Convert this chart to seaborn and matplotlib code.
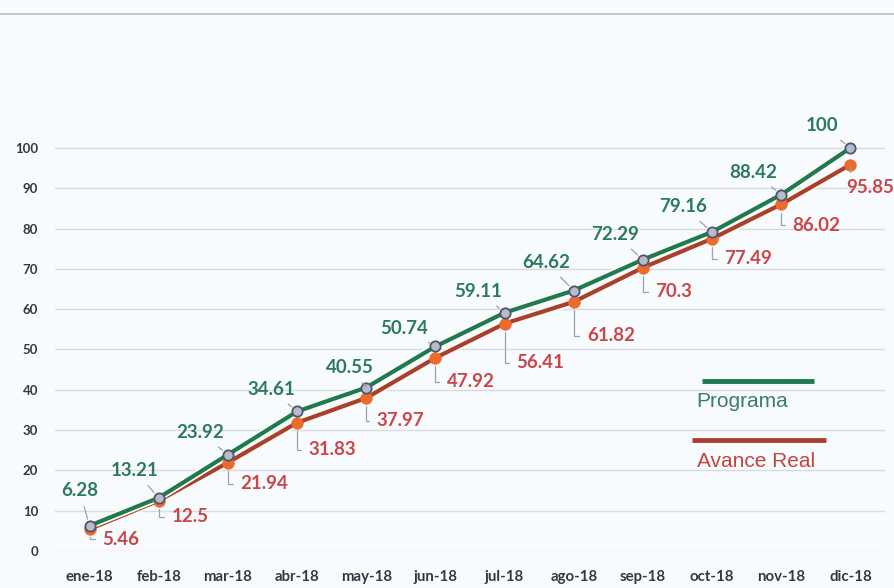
import numpy as np
import pandas as pd
import matplotlib
matplotlib.use("Agg")
import matplotlib.pyplot as plt
import matplotlib.patheffects as pe
from matplotlib.lines import Line2D
import seaborn as sns

months = ["ene-18", "feb-18", "mar-18", "abr-18", "may-18", "jun-18",
          "jul-18", "ago-18", "sep-18", "oct-18", "nov-18", "dic-18"]
programa = [6.28, 13.21, 23.92, 34.61, 40.55, 50.74, 59.11, 64.62, 72.29, 79.16, 88.42, 100]
avance_real = [5.46, 12.5, 21.94, 31.83, 37.97, 47.92, 56.41, 61.82, 70.3, 77.49, 86.02, 95.85]
y_ticks = [0, 10, 20, 30, 40, 50, 60, 70, 80, 90, 100]

# label offsets in pixels (dx, dy) from each point
prog_offsets = [(-10, 35), (-24, 27), (-28, 22), (-26, 22), (-16, 20), (-31, 18),
                (-26, 21), (-28, 28), (-28, 25), (-29, 25), (-28, 22), (-28, 22)]
real_offsets = [(31, -10), (31, -16), (36, -21), (35, -27), (34, -23), (35, -24),
                (36, -39), (37, -34), (31, -24), (36, -20), (35, -21), (20, -23)]

sns.set_theme(style="white")
plt.rcParams["font.family"] = ["Lato", "DejaVu Sans"]

BG = "#f8fbfd"
GREEN = "#1f7a52"
GREEN_TXT = "#2d7a5c"
RED = "#a8402e"
RED_TXT = "#c9474a"
ORANGE = "#ec6a2c"
LEADER = "#9da2aa"

df = pd.DataFrame({
    "pos": list(range(len(months))) * 2,
    "valor": programa + avance_real,
    "serie": ["Programa"] * len(months) + ["Avance Real"] * len(months),
})
real_df = df[df.serie == "Avance Real"]
prog_df = df[df.serie == "Programa"]

fig = plt.figure(figsize=(8.94, 5.88), dpi=100, facecolor=BG)
ax = fig.add_axes([0.0615, 0.0629, 0.9285, 0.857])
ax.set_facecolor(BG)

outline = [pe.Stroke(linewidth=5.5, foreground="#fdfcf6"), pe.Normal()]
sns.lineplot(data=real_df, x="pos", y="valor", ax=ax, color=RED, linewidth=3,
             legend=False, path_effects=outline, zorder=3)
sns.lineplot(data=prog_df, x="pos", y="valor", ax=ax, color=GREEN, linewidth=3,
             legend=False, path_effects=outline, zorder=4)
sns.scatterplot(data=real_df, x="pos", y="valor", ax=ax, color=ORANGE, s=70,
                edgecolor=ORANGE, linewidth=0.5, legend=False, zorder=5)
sns.scatterplot(data=prog_df, x="pos", y="valor", ax=ax, color="#b9bcc8", s=55,
                edgecolor="#4a5670", linewidth=1.3, legend=False, zorder=6)

for i, v in enumerate(programa):
    dx, dy = prog_offsets[i]
    ax.annotate(f"{v:g}", xy=(i, v), xytext=(dx, dy), textcoords="offset pixels",
                ha="center", va="center", fontsize=13.5, fontweight="bold",
                color=GREEN_TXT, zorder=7,
                arrowprops=dict(arrowstyle="-", color=LEADER, lw=0.9,
                                shrinkA=3, shrinkB=5))
for i, v in enumerate(avance_real):
    dx, dy = real_offsets[i]
    ax.annotate(f"{v:g}", xy=(i, v), xytext=(dx, dy), textcoords="offset pixels",
                ha="center", va="center", fontsize=13.5, fontweight="bold",
                color=RED_TXT, zorder=7,
                arrowprops=dict(arrowstyle="-", color=LEADER, lw=0.9,
                                shrinkA=3, shrinkB=6,
                                connectionstyle="angle,angleA=0,angleB=90,rad=0"))

ax.set_xlim(-0.5, len(months) - 0.5)
ax.set_ylim(0, 125)
ax.set_yticks(y_ticks)
ax.set_xticks(range(len(months)))
ax.set_xticklabels(months)
ax.tick_params(axis="x", length=0, labelsize=10.8, labelcolor="#333845", pad=14)
ax.tick_params(axis="y", length=0, labelsize=9.5, labelcolor="#333845", pad=12)
for lbl in ax.get_xticklabels() + ax.get_yticklabels():
    lbl.set_fontweight("bold")
ax.grid(axis="y", color="#d8dce2", linewidth=1)
ax.set_axisbelow(True)
for s in ax.spines.values():
    s.set_visible(False)
ax.set_xlabel("")
ax.set_ylabel("")

# legend drawn as line segments with captions beneath
leg_font = ["Liberation Sans", "DejaVu Sans"]
ax.add_line(Line2D([0.78, 0.914], [0.337, 0.337], transform=ax.transAxes,
                   color=GREEN, linewidth=3.5, solid_capstyle="butt"))
ax.text(0.828, 0.296, "Programa", transform=ax.transAxes, ha="center", va="center",
        fontsize=15, color="#3a7d68", family=leg_font)
ax.add_line(Line2D([0.767, 0.929], [0.22, 0.22], transform=ax.transAxes,
                   color=RED, linewidth=3.5, solid_capstyle="butt"))
ax.text(0.845, 0.177, "Avance Real", transform=ax.transAxes, ha="center", va="center",
        fontsize=15, color="#c2453f", family=leg_font)

# thin rule across the top of the figure
fig.add_artist(Line2D([0, 1], [0.976, 0.976], transform=fig.transFigure,
                      color="#b8bcc4", linewidth=1.2))

fig.savefig("out.png", dpi=100, facecolor=BG)
